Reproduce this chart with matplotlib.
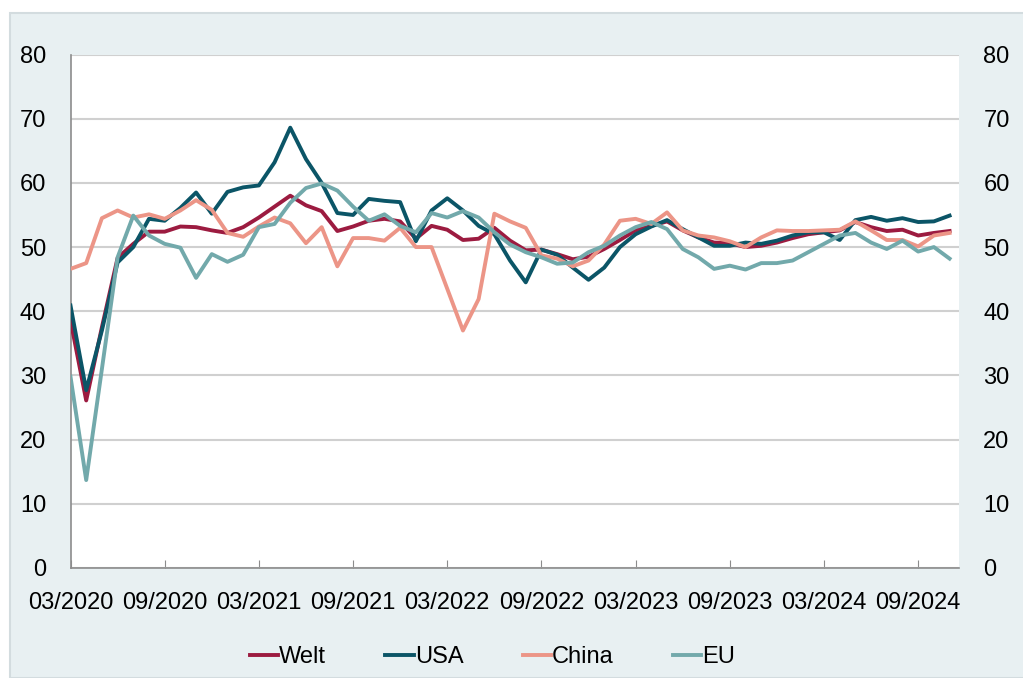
import matplotlib.pyplot as plt
from matplotlib.patches import Rectangle

plt.rcParams['font.family'] = ['Liberation Sans', 'DejaVu Sans']

# monthly values, 03/2020 .. 11/2024
welt = [38.6, 26.1, 37.5, 48.3, 50.5, 52.4, 52.4, 53.2, 53.1, 52.6,
        52.2, 53.1, 54.6, 56.3, 58.0, 56.5, 55.6, 52.5, 53.2, 54.1,
        54.4, 54.0, 51.3, 53.3, 52.7, 51.1, 51.3, 53.0, 51.0, 49.5,
        49.6, 48.9, 48.1, 48.5, 49.7, 51.1, 52.6, 53.3, 54.0, 52.6,
        51.5, 50.7, 50.6, 50.0, 50.2, 50.7, 51.4, 52.0, 52.3, 52.6,
        53.9, 53.1, 52.5, 52.7, 51.8, 52.2, 52.5]
usa = [40.9, 27.7, 37.0, 47.6, 50.0, 54.4, 54.1, 56.1, 58.5, 55.2,
       58.6, 59.3, 59.6, 63.2, 68.6, 63.7, 60.0, 55.3, 55.0, 57.5,
       57.2, 57.0, 50.9, 55.7, 57.6, 55.7, 53.3, 52.0, 47.9, 44.5,
       49.6, 48.8, 46.8, 44.9, 46.8, 50.0, 52.0, 53.2, 54.2, 52.8,
       51.5, 50.2, 50.2, 50.7, 50.5, 51.0, 51.8, 52.3, 52.3, 51.1,
       54.2, 54.7, 54.1, 54.5, 53.9, 54.0, 54.9]
china = [46.6, 47.5, 54.5, 55.7, 54.6, 55.1, 54.4, 55.7, 57.3, 55.8,
         52.2, 51.6, 53.2, 54.6, 53.7, 50.6, 53.1, 47.0, 51.4, 51.4,
         51.0, 53.0, 50.0, 50.0, 43.5, 37.0, 41.9, 55.2, 54.0, 53.0,
         48.7, 48.2, 47.0, 47.9, 50.4, 54.1, 54.4, 53.6, 55.4, 52.6,
         51.8, 51.5, 50.9, 50.0, 51.5, 52.6, 52.5, 52.5, 52.6, 52.7,
         54.0, 52.6, 51.1, 51.1, 50.1, 51.8, 52.2]
eu = [29.8, 13.7, 31.0, 48.4, 54.9, 51.8, 50.5, 49.9, 45.2, 48.9,
      47.7, 48.8, 53.1, 53.6, 56.9, 59.2, 59.9, 58.8, 56.3, 54.1,
      55.1, 53.3, 52.3, 55.3, 54.6, 55.6, 54.6, 52.3, 50.4, 49.2,
      48.4, 47.4, 47.6, 49.2, 50.2, 51.8, 53.1, 53.9, 52.8, 49.7,
      48.4, 46.6, 47.1, 46.5, 47.5, 47.5, 47.9, 49.2, 50.5, 51.8,
      52.2, 50.7, 49.7, 51.0, 49.3, 50.0, 48.2]

tick_labels = ['03/2020', '09/2020', '03/2021', '09/2021', '03/2022',
               '09/2022', '03/2023', '09/2023', '03/2024', '09/2024']
yticks = [0, 10, 20, 30, 40, 50, 60, 70, 80]

x = list(range(len(welt)))

fig = plt.figure(figsize=(10.23, 6.78), dpi=100)
fig.patch.set_facecolor('white')
fig.patches.append(Rectangle((10 / 1023, 0), 1, 1 - 13 / 678,
                             transform=fig.transFigure, facecolor='#e8f0f2',
                             edgecolor='#d3dcdf', linewidth=1.5, zorder=-10))

ax = fig.add_axes([70.5 / 1023, 1 - 568 / 678, (959 - 70.5) / 1023, (568 - 54.5) / 678])
ax.set_facecolor('white')

ax.plot(x, welt, color='#9c1b40', lw=2.8, label='Welt', zorder=3)
ax.plot(x, usa, color='#0b5567', lw=2.8, label='USA', zorder=3)
ax.plot(x, china, color='#ec9587', lw=2.8, label='China', zorder=3)
ax.plot(x, eu, color='#72a9ab', lw=2.8, label='EU', zorder=3)

ax.set_xlim(0, 56.6)
ax.set_ylim(0, 80)
ax.set_yticks(yticks)
ax.set_xticks(range(0, 55, 6))
ax.set_xticklabels(tick_labels)
ax.grid(axis='y', color='#d0d0d0', lw=1.5)
ax.set_axisbelow(True)
for s in ['top', 'right']:
    ax.spines[s].set_visible(False)
for s in ['left', 'bottom']:
    ax.spines[s].set_color('#8c8c8c')
    ax.spines[s].set_linewidth(1.2)
ax.tick_params(axis='x', direction='in', length=6, color='#8c8c8c',
               labelsize=17, pad=17)
ax.tick_params(axis='y', length=0, labelsize=17, pad=17.5)

ax2 = ax.twinx()
ax2.set_ylim(0, 80)
ax2.set_yticks(yticks)
ax2.tick_params(axis='y', length=0, labelsize=17, pad=17.5)
for s in ax2.spines.values():
    s.set_visible(False)

fig.legend(loc='center', bbox_to_anchor=(492.5 / 1023, 1 - 657 / 678), ncol=4,
           frameon=False, fontsize=17, handlelength=1.2, handletextpad=0.05,
           columnspacing=2.5)

fig.savefig('out.png', dpi=100)
